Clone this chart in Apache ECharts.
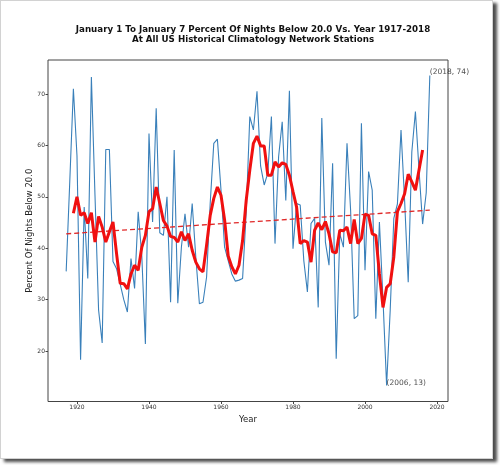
<!DOCTYPE html>
<html>
<head>
<meta charset="utf-8">
<script src="https://cdn.jsdelivr.net/npm/echarts@6/dist/echarts.min.js"></script>
<style>
  html, body { margin: 0; padding: 0; background: #fff; }
  #page {
    position: absolute; left: 0; top: 0; width: 491px; height: 457px;
    border: 1px solid #d2d2d2; background: #fff;
    box-shadow: 4px 3px 3px rgba(0, 0, 0, 0.7);
  }
  #chart { position: absolute; left: 0; top: 0; width: 500px; height: 465px; }
</style>
</head>
<body>
<div id="page"></div>
<div id="chart"></div>
<script>
// yearly values
const years = [
  1917, 1918, 1919, 1920, 1921, 1922, 1923, 1924, 1925, 1926,
  1927, 1928, 1929, 1930, 1931, 1932, 1933, 1934, 1935, 1936,
  1937, 1938, 1939, 1940, 1941, 1942, 1943, 1944, 1945, 1946,
  1947, 1948, 1949, 1950, 1951, 1952, 1953, 1954, 1955, 1956,
  1957, 1958, 1959, 1960, 1961, 1962, 1963, 1964, 1965, 1966,
  1967, 1968, 1969, 1970, 1971, 1972, 1973, 1974, 1975, 1976,
  1977, 1978, 1979, 1980, 1981, 1982, 1983, 1984, 1985, 1986,
  1987, 1988, 1989, 1990, 1991, 1992, 1993, 1994, 1995, 1996,
  1997, 1998, 1999, 2000, 2001, 2002, 2003, 2004, 2005, 2006,
  2007, 2008, 2009, 2010, 2011, 2012, 2013, 2014, 2015, 2016,
  2017, 2018
]
const nightsBelow = [
  35.5, 53.0, 71.0, 58.0, 18.3, 48.0, 34.1, 73.3, 50.3, 28.0,
  21.6, 59.2, 59.2, 37.4, 36.0, 33.0, 30.0, 27.6, 38.0, 32.2,
  47.1, 38.6, 21.4, 62.3, 45.1, 67.2, 43.0, 42.5, 50.0, 29.5,
  59.1, 29.3, 40.2, 46.7, 40.2, 48.7, 38.3, 29.2, 29.5, 34.4,
  48.7, 60.4, 61.2, 51.3, 40.2, 37.6, 35.0, 33.6, 33.8, 34.1,
  47.0, 65.6, 63.0, 70.5, 56.0, 52.3, 54.6, 65.6, 40.9, 57.8,
  64.6, 49.3, 70.6, 39.9, 48.7, 48.4, 37.6, 31.5, 44.8, 45.8,
  28.5, 65.3, 41.2, 36.7, 56.5, 18.5, 42.8, 40.2, 60.4, 47.4,
  26.3, 26.9, 64.3, 35.7, 54.9, 51.3, 26.3, 45.1, 30.0, 13.3,
  28.0, 45.8, 48.6, 63.0, 49.3, 33.4, 58.7, 66.6, 55.2, 44.7,
  50.8, 73.6
]

// 5 year running mean (red), 1919-2016
const avgYears = years.slice(2, years.length - 2)
const runningMean = [
  46.8, 50.0, 46.4, 46.9, 44.8, 46.9, 41.2, 46.2, 44.1, 41.2,
  43.2, 45.1, 38.9, 33.2, 33.1, 32.1, 35.0, 36.7, 35.7, 40.2,
  42.5, 47.1, 47.7, 51.9, 48.7, 45.4, 44.3, 42.3, 42.1, 41.2,
  43.2, 41.5, 42.8, 39.6, 37.3, 36.0, 35.4, 40.6, 46.4, 49.7,
  51.9, 50.3, 45.5, 38.5, 36.4, 35.0, 36.7, 41.5, 49.3, 55.2,
  60.4, 61.8, 59.9, 59.9, 54.2, 54.2, 56.8, 55.8, 56.6, 56.3,
  54.2, 51.0, 48.0, 40.9, 41.5, 41.2, 37.3, 43.5, 44.9, 43.6,
  45.2, 42.8, 39.3, 39.1, 43.5, 43.4, 44.1, 40.9, 45.6, 40.9,
  41.9, 46.6, 46.4, 42.8, 42.5, 35.0, 28.5, 32.4, 33.1, 38.3,
  47.1, 48.7, 50.6, 54.4, 52.9, 51.3, 55.2, 59.1
]

// dashed trend line end points
const trendYears = [1917, 2018]
const trendValues = [42.8, 47.4]

const xTicks = [1920, 1940, 1960, 1980, 2000, 2020]
const yTicks = [20, 30, 40, 50, 60, 70]

const font = 'DejaVu Sans'

// max / min points get a "(year, value)" note
let iMax = 0, iMin = 0
nightsBelow.forEach((v, i) => {
  if (v > nightsBelow[iMax]) iMax = i
  if (v < nightsBelow[iMin]) iMin = i
})
const notes = [iMax, iMin].map(i => [years[i], nightsBelow[i]])

const chart = echarts.init(document.getElementById('chart'), null, { renderer: 'canvas' })

chart.setOption({
  animation: false,
  title: {
    text: 'January 1 To January 7 Percent Of Nights Below 20.0 Vs. Year 1917-2018\nAt All US Historical Climatology Network Stations',
    left: 248,
    top: 20,
    textAlign: 'center',
    textStyle: {
      fontFamily: font, fontSize: 8.7, fontWeight: 'bold', color: '#111', lineHeight: 10
    }
  },
  grid: {
    left: 48, right: 52, top: 60, bottom: 63.5,
    show: true, borderColor: '#444', borderWidth: 1, backgroundColor: 'transparent'
  },
  xAxis: {
    type: 'value',
    min: 1911.95,
    max: 2023.05,
    name: 'Year',
    nameLocation: 'middle',
    nameGap: 12,
    nameTextStyle: { fontFamily: font, fontSize: 8.5, color: '#222' },
    splitLine: { show: false },
    axisLine: { show: false },
    axisTick: { show: true, length: 2.5, customValues: xTicks, lineStyle: { color: '#444' } },
    axisLabel: {
      customValues: xTicks, fontFamily: font, fontSize: 6, color: '#333', margin: 3,
      formatter: v => String(v)
    }
  },
  yAxis: {
    type: 'value',
    min: 10.2,
    max: 76.6,
    name: 'Percent Of Nights Below 20.0',
    nameLocation: 'middle',
    nameGap: 14,
    nameMoveOverlap: false,
    nameTextStyle: { fontFamily: font, fontSize: 8.5, color: '#222' },
    splitLine: { show: false },
    axisLine: { show: false },
    axisTick: { show: true, length: 2.5, customValues: yTicks, lineStyle: { color: '#444' } },
    axisLabel: {
      customValues: yTicks, fontFamily: font, fontSize: 6, color: '#333', margin: 3
    }
  },
  series: [
    {
      name: 'yearly',
      type: 'line',
      data: years.map((y, i) => [y, nightsBelow[i]]),
      showSymbol: false,
      lineStyle: { color: '#3a80ba', width: 1.1 },
      z: 2
    },
    {
      name: 'trend',
      type: 'line',
      data: trendYears.map((y, i) => [y, trendValues[i]]),
      showSymbol: false,
      lineStyle: { color: '#e02828', width: 1.3, type: [5, 3] },
      z: 3
    },
    {
      name: 'running mean',
      type: 'line',
      data: avgYears.map((y, i) => [y, runningMean[i]]),
      showSymbol: false,
      lineStyle: { color: '#f01010', width: 3 },
      z: 4
    },
    {
      name: 'notes',
      type: 'scatter',
      data: notes,
      symbolSize: 0,
      label: {
        show: true,
        position: 'right',
        distance: 0,
        offset: [0, -3],
        fontFamily: font,
        fontSize: 7.5,
        color: '#222',
        formatter: p => '(' + p.value[0] + ', ' + Math.round(p.value[1]) + ')'
      },
      z: 5
    }
  ]
})
</script>
</body>
</html>
